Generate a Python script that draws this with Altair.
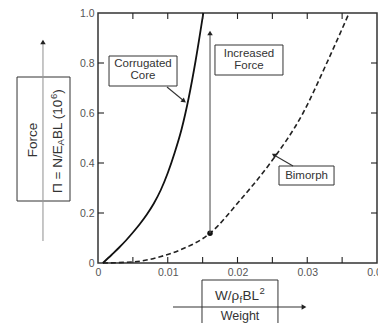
import altair as alt
import pandas as pd

# ---- curve data ----
corr_x = [0.0007, 0.0020, 0.0030, 0.0040, 0.0050, 0.0060, 0.0070, 0.0080, 0.0090, 0.0100,
          0.0110, 0.0120, 0.0130, 0.0140, 0.0151]
corr_y = [0.0, 0.034, 0.061, 0.090, 0.122, 0.156, 0.194, 0.238, 0.292, 0.360,
          0.442, 0.537, 0.660, 0.810, 1.0]
bim_x = [0.0007, 0.0053, 0.0089, 0.01176, 0.01606, 0.0204, 0.0247, 0.0294, 0.0328, 0.036]
bim_y = [0.0, 0.005, 0.025, 0.052, 0.119, 0.252, 0.40, 0.60, 0.80, 1.0]
dot_x = [0.01606]
dot_y = [0.119]

x_ticks_major = [0, 0.01, 0.02, 0.03, 0.04]
x_ticks_all = [0.005, 0.01, 0.015, 0.02, 0.025, 0.03, 0.035]
y_ticks = [0, 0.2, 0.4, 0.6, 0.8, 1.0]
y_ticks_inner = [0.2, 0.4, 0.6, 0.8]

# ---- annotation data ----
box_x = [0.00158, 0.01677, 0.02595, -0.01161, 0.01491]
box_x2 = [0.01133, 0.02652, 0.03384, -0.004014, 0.0258]
box_y = [0.708, 0.752, 0.312, 0.248, -0.068]
box_y2 = [0.828, 0.872, 0.388, 0.744, -0.40]

seg_x = [0.01606, -0.00789, 0.01075, 0.00989, 0.02796]
seg_x2 = [0.01606, -0.00789, 0.02953, 0.01233, 0.02523]
seg_y = [0.119, 0.088, -0.176, 0.704, 0.388]
seg_y2 = [0.92, 0.884, -0.176, 0.648, 0.432]
seg_color = ["#555555", "#999999", "#333333", "#333333", "#333333"]

head_x = [0.01606, -0.00789, 0.02953, 0.01233, 0.02523]
head_y = [0.92, 0.884, -0.176, 0.648, 0.432]
head_angle = [0, 0, 90, 128, 300]

ctext = ["Corrugated", "Core", "Increased", "Force", "Bimorph", "Weight"]
ctext_x = [0.00645, 0.00645, 0.02165, 0.02165, 0.0299, 0.02036]
ctext_y = [0.796, 0.748, 0.836, 0.788, 0.35, -0.212]
ctext_size = [11.5, 11.5, 11.5, 11.5, 11.5, 12.5]

ltext = ["W/ρ", "f", "BL", "2"]
ltext_x = [0.016774, 0.020287, 0.020717, 0.023154]
ltext_y = [-0.132, -0.146, -0.132, -0.112]
ltext_size = [13.5, 9.5, 13.5, 9.5]

rtext = ["Π = N/E", "A", "BL (10", "6", ")"]
rtext_x = [-0.005735, -0.00530, -0.005735, -0.00633, -0.005735]
rtext_y = [0.28, 0.4704, 0.4964, 0.6556, 0.6768]
rtext_size = [13.5, 9.5, 13.5, 9.5, 13.5]

force_label = ["Force"]
force_x = [-0.00932]
force_y = [0.492]

FONT = "Liberation Sans"
INK = "#333333"
W, H = 279, 250
XMAX, YMAX = 0.04, 1.0

xs = alt.Scale(domain=[0, XMAX], nice=False, zero=False)
ys = alt.Scale(domain=[0, YMAX], nice=False, zero=False)

ax_lab = alt.Axis(values=x_ticks_major, ticks=False, domain=False, grid=False,
                  labelExpr="datum.value == 0 ? '0' : format(datum.value, '.2f')",
                  labelFlush=False, labelPadding=4, labelFontSize=10.5,
                  labelColor="#555555", labelFont=FONT, title=None)
ay_lab = alt.Axis(values=y_ticks, ticks=False, domain=False, grid=False,
                  labelExpr="datum.value == 0 ? '0' : format(datum.value, '.1f')",
                  labelFlush=False, labelPadding=4, labelFontSize=10.5,
                  labelColor="#555555", labelFont=FONT, title=None)


def X(field):
    return alt.X(field, scale=xs, axis=ax_lab)


def Y(field):
    return alt.Y(field, scale=ys, axis=ay_lab)


df_c = pd.DataFrame({"x": corr_x, "y": corr_y})
df_b = pd.DataFrame({"x": bim_x, "y": bim_y})
df_d = pd.DataFrame({"x": dot_x, "y": dot_y})

bim = alt.Chart(df_b).mark_line(color="#222222", strokeWidth=1.6, strokeDash=[5, 3],
                                interpolate="monotone").encode(x=X("x:Q"), y=Y("y:Q"))
corr = alt.Chart(df_c).mark_line(color="#111111", strokeWidth=1.8,
                                 interpolate="monotone").encode(x=X("x:Q"), y=Y("y:Q"))
dot = alt.Chart(df_d).mark_point(filled=True, color="#111111", size=30,
                                 opacity=1).encode(x=X("x:Q"), y=Y("y:Q"))

# inward ticks on all four sides: a 6 px tick expressed in data units
TL = 6
ylen = TL / H * YMAX
xlen = TL / W * XMAX
tx, tx2, ty, ty2, tc = [], [], [], [], []
for v in x_ticks_all:
    tx += [v, v]; tx2 += [v, v]
    ty += [0.0, YMAX]; ty2 += [ylen, YMAX - ylen]
    tc += ["#222222", "#222222"]
for v in y_ticks_inner:
    ty += [v, v]; ty2 += [v, v]
    tx += [0.0, XMAX]; tx2 += [xlen, XMAX - xlen]
    tc += ["#222222", "#222222"]
df_ticks = pd.DataFrame({"x": tx, "x2": tx2, "y": ty, "y2": ty2, "c": tc})

df_seg = pd.DataFrame({"x": seg_x, "x2": seg_x2, "y": seg_y, "y2": seg_y2, "c": seg_color})
df_rules = pd.concat([df_seg, df_ticks], ignore_index=True)
rules = alt.Chart(df_rules).mark_rule(strokeWidth=1.1).encode(
    x=X("x:Q"), x2="x2:Q", y=Y("y:Q"), y2="y2:Q", color=alt.Color("c:N", scale=None))

df_box = pd.DataFrame({"x": box_x, "x2": box_x2, "y": box_y, "y2": box_y2})
boxes = alt.Chart(df_box).mark_rect(fill="white", stroke=INK, strokeWidth=1).encode(
    x=X("x:Q"), x2="x2:Q", y=Y("y:Q"), y2="y2:Q")

df_head = pd.DataFrame({"x": head_x, "y": head_y, "a": head_angle})
heads = alt.Chart(df_head).mark_point(shape="triangle-up", filled=True, color="#222222",
                                      size=30, opacity=1).encode(
    x=X("x:Q"), y=Y("y:Q"), angle=alt.Angle("a:Q", scale=None))

df_ct = pd.DataFrame({"x": ctext_x, "y": ctext_y, "t": ctext, "s": ctext_size})
ctexts = alt.Chart(df_ct).mark_text(align="center", baseline="middle", font=FONT,
                                    color=INK).encode(
    x=X("x:Q"), y=Y("y:Q"), text="t:N", size=alt.Size("s:Q", scale=None))

df_lt = pd.DataFrame({"x": ltext_x, "y": ltext_y, "t": ltext, "s": ltext_size})
ltexts = alt.Chart(df_lt).mark_text(align="left", baseline="middle", font=FONT,
                                    color=INK).encode(
    x=X("x:Q"), y=Y("y:Q"), text="t:N", size=alt.Size("s:Q", scale=None))

df_rt = pd.DataFrame({"x": rtext_x, "y": rtext_y, "t": rtext, "s": rtext_size})
rtexts = alt.Chart(df_rt).mark_text(align="left", baseline="middle", angle=270, font=FONT,
                                    color=INK).encode(
    x=X("x:Q"), y=Y("y:Q"), text="t:N", size=alt.Size("s:Q", scale=None))

df_f = pd.DataFrame({"x": force_x, "y": force_y, "t": force_label})
ftext = alt.Chart(df_f).mark_text(align="center", baseline="middle", angle=270, font=FONT,
                                  color=INK, fontSize=13.5).encode(
    x=X("x:Q"), y=Y("y:Q"), text="t:N")

chart = alt.layer(
    bim, corr, dot, boxes, rules, heads, ctexts, ltexts, rtexts, ftext
).properties(
    width=W, height=H,
    autosize=alt.AutoSizeParams(type="none"),
    padding={"left": 90, "top": 5, "right": 1, "bottom": 60},
).configure_view(stroke="#333333", strokeWidth=1.5).configure_axis(grid=False)

chart.save("out.html", embed_options={"renderer": "svg", "actions": False})
